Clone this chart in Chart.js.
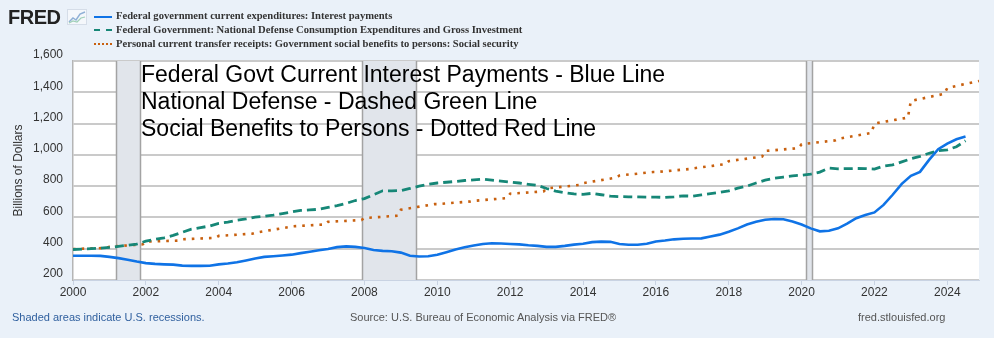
<!DOCTYPE html>
<html>
<head>
<meta charset="utf-8">
<script src="https://cdn.jsdelivr.net/npm/chart.js@4.4.1/dist/chart.umd.min.js"></script>
<style>
  body { margin: 0; background: #eaf1f9; }
  #wrap { position: relative; width: 994px; height: 338px; overflow: hidden; font-family: "Liberation Sans", Arial, sans-serif; }
  #chart { position: absolute; left: 0; top: 0; }
  .logo { position: absolute; left: 8px; top: 6px; font-size: 20px; font-weight: 900; color: #222; letter-spacing: -0.5px; }
  .logo svg { position: absolute; left: 59px; top: 3px; }
  .legend { position: absolute; left: 94px; top: 9px; font-family: "Liberation Serif", "Times New Roman", serif; font-weight: bold; font-size: 10.6px; color: #333; }
  .legend div { height: 13.8px; line-height: 13.8px; white-space: nowrap; }
  .legend span.s { display: inline-block; width: 18px; height: 0; margin-right: 4px; vertical-align: middle; }
  .note { position: absolute; left: 141px; top: 61px; font-size: 23px; line-height: 27px; color: #000; white-space: nowrap; }
  .foot { position: absolute; top: 311px; font-size: 11px; color: #555; }
</style>
</head>
<body>
<div id="wrap">
  <canvas id="chart" width="994" height="338"></canvas>
  <div class="logo">FRED<svg width="20" height="16" viewBox="0 0 20 16"><rect x="0.5" y="0.5" width="19" height="15" fill="#f4f7fb" stroke="#d5dde8"/><polyline points="2,13 6,9 9,11 13,5 18,3" fill="none" stroke="#8fb0d6" stroke-width="1.5"/><polyline points="2,14 6,12 10,13 14,9 18,8" fill="none" stroke="#9fd0b8" stroke-width="1.2"/></svg></div>
  <div class="legend">
    <div><span class="s" style="border-top:2.5px solid #0f73e6"></span>Federal government current expenditures: Interest payments</div>
    <div><span class="s" style="border-top:2.5px dashed #168777"></span>Federal Government: National Defense Consumption Expenditures and Gross Investment</div>
    <div><span class="s" style="border-top:2.5px dotted #c8600f"></span>Personal current transfer receipts: Government social benefits to persons: Social security</div>
  </div>
  <div class="note">Federal Govt Current Interest Payments - Blue Line<br>National Defense - Dashed Green Line<br>Social Benefits to Persons - Dotted Red Line</div>
  <div class="foot" style="left:12px;color:#2f5f9e">Shaded areas indicate U.S. recessions.</div>
  <div class="foot" style="left:350px">Source: U.S. Bureau of Economic Analysis via FRED®</div>
  <div class="foot" style="left:858px">fred.stlouisfed.org</div>
</div>
<script>
// quarterly series, first value = 2000 Q1
const startYear = 2000;
const interestPayments = [
  355, 355, 355, 354,  348, 340, 330, 318,  308, 303, 300, 298,  292, 290, 290, 291,
  300, 305, 313, 325,  338, 348, 352, 357,  362, 372, 381, 390,  398, 410, 415, 412,
  405, 392, 386, 384,  375, 355, 350, 352,  362, 378, 395, 410,  420, 430, 435, 433,
  430, 428, 422, 418,  412, 412, 418, 426,  432, 442, 445, 444,  430, 425, 425, 432,
  446, 452, 460, 464,  465, 466, 478, 490,  508, 530, 555, 572,  585, 590, 588, 574,
  555, 530, 511, 515,  530, 560, 595, 615,  632, 680, 745, 815,  866, 891, 968, 1036,
  1072, 1100, 1117
];
const nationalDefense = [
  395, 398, 400, 403,  408, 415, 422, 430,  448, 460, 470, 485,  505, 525, 535, 545,
  562, 570, 582, 590,  602, 608, 615, 625,  635, 645, 648, 652,  664, 675, 690, 708,
  720, 745, 770, 770,  772, 785, 800, 812,  820, 825, 830, 836,  840, 845, 838, 832,
  826, 820, 812, 805,  785, 768, 758, 750,  748, 754, 745, 736,  733, 732, 731, 730,
  730, 728, 732, 738,  736, 744, 752, 760,  770, 787, 800, 820,  838, 850, 858, 866,
  870, 877, 890, 915,  911, 912, 913, 912,  909, 928, 936, 955,  975, 990, 1010, 1027,
  1032, 1052, 1090
];
// social security (monthly source): January level and last-month level of each year
const ssYears = [2000, 2001, 2002, 2003, 2004, 2005, 2006, 2007, 2008, 2009, 2010, 2011, 2012,
  2013, 2014, 2015, 2016, 2017, 2018, 2019, 2020, 2021, 2022, 2023, 2024];
const ssJan = [398, 413, 445, 460, 482, 502, 543, 572, 596, 649, 685, 706, 752,
  785, 819, 868, 890, 913, 960, 1025, 1068, 1102, 1200, 1345, 1428];
const ssEnd = [405, 428, 452, 470, 496, 538, 555, 583, 611, 685, 702, 724, 766,
  808, 855, 890, 909, 941, 989, 1043, 1092, 1140, 1238, 1390, 1472];

const recStart = [2001.17, 2007.92, 2020.13];
const recEnd = [2001.83, 2009.42, 2020.29];

const xTicks = [2000, 2002, 2004, 2006, 2008, 2010, 2012, 2014, 2016, 2018, 2020, 2022, 2024];
const yTicks = [200, 400, 600, 800, 1000, 1200, 1400, 1600];
const xMax = 2024.87;

const quarterly = arr => arr.map((v, i) => ({ x: startYear + i / 4, y: v }));
const ssPoints = [];
ssYears.forEach((yr, i) => {
  ssPoints.push({ x: yr, y: ssJan[i] });
  ssPoints.push({ x: Math.min(yr + 11 / 12, xMax), y: ssEnd[i] });
});

const recessions = {
  id: 'recessions',
  beforeDatasetsDraw(chart) {
    const { ctx, chartArea: a, scales: { x } } = chart;
    ctx.save();
    recStart.forEach((s, i) => {
      const x0 = Math.round(x.getPixelForValue(s)) + 0.5;
      const x1 = Math.round(x.getPixelForValue(recEnd[i])) + 0.5;
      ctx.fillStyle = '#e1e5eb';
      ctx.fillRect(x0, a.top, x1 - x0, a.bottom - a.top);
      ctx.strokeStyle = '#a3a3a3';
      ctx.lineWidth = 1.5;
      ctx.beginPath();
      ctx.moveTo(x0, a.top); ctx.lineTo(x0, a.bottom);
      ctx.moveTo(x1, a.top); ctx.lineTo(x1, a.bottom);
      ctx.stroke();
    });
    ctx.restore();
  }
};

const plotBg = {
  id: 'plotBg',
  beforeDraw(chart) {
    const { ctx, chartArea: a } = chart;
    ctx.save();
    ctx.fillStyle = '#ffffff';
    ctx.fillRect(a.left, a.top, a.right - a.left, a.bottom - a.top);
    ctx.restore();
  }
};

new Chart(document.getElementById('chart'), {
  type: 'line',
  data: {
    datasets: [{
      label: 'Federal government current expenditures: Interest payments',
      data: quarterly(interestPayments),
      borderColor: '#0f73e6',
      borderWidth: 2.6,
      order: 1
    }, {
      label: 'Federal Government: National Defense Consumption Expenditures and Gross Investment',
      data: quarterly(nationalDefense),
      borderColor: '#168777',
      borderWidth: 2.8,
      borderDash: [9, 5],
      order: 2
    }, {
      label: 'Personal current transfer receipts: Government social benefits to persons: Social security',
      data: ssPoints,
      borderColor: '#c8600f',
      borderWidth: 2.6,
      borderDash: [2.6, 6],
      order: 3
    }]
  },
  options: {
    responsive: false,
    animation: false,
    devicePixelRatio: 1,
    layout: { padding: { top: 61, right: 15, bottom: 38, left: 0 } },
    elements: { point: { radius: 0 }, line: { tension: 0, borderCapStyle: 'butt' } },
    plugins: { legend: { display: false }, tooltip: { enabled: false } },
    scales: {
      x: {
        type: 'linear',
        min: startYear,
        max: xMax,
        afterBuildTicks: s => { s.ticks = xTicks.map(v => ({ value: v })); },
        afterFit: s => { s.height = 20; },
        ticks: { callback: v => String(v), color: '#333', font: { family: 'Liberation Sans', size: 12 }, padding: 0, maxRotation: 0 },
        grid: { drawOnChartArea: false, drawTicks: true, tickLength: 5, color: '#c9d3e3' },
        border: { color: '#c9d3e3', width: 1 }
      },
      y: {
        min: 200,
        max: 1600,
        afterBuildTicks: s => { s.ticks = yTicks.map(v => ({ value: v })); },
        afterFit: s => { s.width = 73; },
        ticks: {
          callback: v => v.toLocaleString('en-US'),
          color: '#333', font: { family: 'Liberation Sans', size: 12 },
          padding: 10, labelOffset: -6
        },
        grid: { color: '#cacaca', lineWidth: 2, drawTicks: false },
        border: { color: '#b5b5b5', width: 1.5 },
        title: {
          display: true, text: 'Billions of Dollars', color: '#333',
          font: { family: 'Liberation Sans', size: 12 }, padding: { top: 11, bottom: 0 }
        }
      }
    }
  },
  plugins: [plotBg, recessions]
});
</script>
</body>
</html>
